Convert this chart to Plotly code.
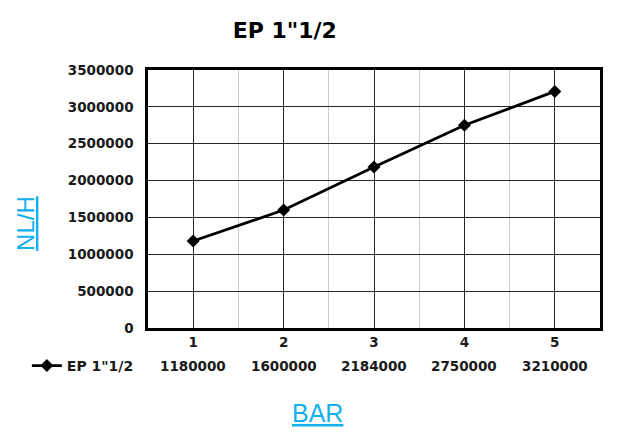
import plotly.graph_objects as go

series_name = 'EP 1"1/2'
bar = [1, 2, 3, 4, 5]
flow = [1180000, 1600000, 2184000, 2750000, 3210000]
y_ticks = [0, 500000, 1000000, 1500000, 2000000, 2500000, 3000000, 3500000]

bold_font = "DejaVu Sans"
plain_font = "Liberation Sans, Arial, sans-serif"
cyan = "#12B0EE"
ink = "#1a1a1a"

# page body has an 8px margin, so the figure is drawn 8px smaller
W, H = 632, 428
L, R, T, B = 140, 40, 62, 108

fig = go.Figure(
    go.Scatter(
        x=bar, y=flow, name=f"<b>{series_name}</b>", mode="lines+markers",
        line=dict(color="black", width=2.8),
        marker=dict(symbol="diamond", size=10, color="black"),
    )
)

# data table row under the axis
for b, v in zip(bar, flow):
    fig.add_annotation(
        x=b, y=-0.147, xref="x", yref="paper", text=f"<b>{v}</b>",
        showarrow=False, font=dict(family=bold_font, size=13.5, color=ink),
        yanchor="middle",
    )

fig.add_annotation(
    x=0.376, y=-0.329, xref="paper", yref="paper",
    xanchor="center", yanchor="middle", showarrow=False,
    text="<u>BAR</u>", font=dict(family=plain_font, size=25, color=cyan),
)
fig.add_annotation(
    x=-0.27, y=0.407, xref="paper", yref="paper",
    xanchor="center", yanchor="middle", showarrow=False, textangle=-90,
    text="<u>NL/H</u>", font=dict(family=plain_font, size=24, color=cyan),
)

fig.update_layout(
    width=W, height=H,
    margin=dict(l=L, r=R, t=T, b=B),
    paper_bgcolor="white", plot_bgcolor="white",
    font=dict(family=bold_font, color=ink),
    title=dict(text=f"<b>{series_name}</b>", x=0.438, xanchor="center",
               y=0.947, yanchor="middle",
               font=dict(family=bold_font, size=22, color="black")),
    showlegend=True,
    legend=dict(x=-0.268, y=-0.147, xanchor="left", yanchor="middle",
                xref="paper", yref="paper", bgcolor="rgba(0,0,0,0)",
                font=dict(family=bold_font, size=14, color=ink)),
)
fig.update_xaxes(
    range=[0.5, 5.5], tickmode="array", tickvals=bar,
    ticktext=[f"<b>{b}</b>" for b in bar],
    tickfont=dict(family=bold_font, size=13.5, color=ink),
    showgrid=True, gridcolor="#262626", gridwidth=1.4,
    minor=dict(tick0=0.5, dtick=1, showgrid=True, gridcolor="#cccccc", gridwidth=1.2),
    showline=True, linecolor="black", linewidth=2.5, mirror=True,
    zeroline=False, ticks="", ticklabelstandoff=0,
)
fig.update_yaxes(
    range=[0, 3500000], tickmode="array", tickvals=y_ticks,
    ticktext=[f"<b>{t}</b>" for t in y_ticks],
    tickfont=dict(family=bold_font, size=13.5, color=ink),
    showgrid=True, gridcolor="#262626", gridwidth=1.4,
    showline=True, linecolor="black", linewidth=2.5, mirror=True,
    zeroline=False, ticks="", ticklabelstandoff=9,
)

fig.write_html("out.html")
